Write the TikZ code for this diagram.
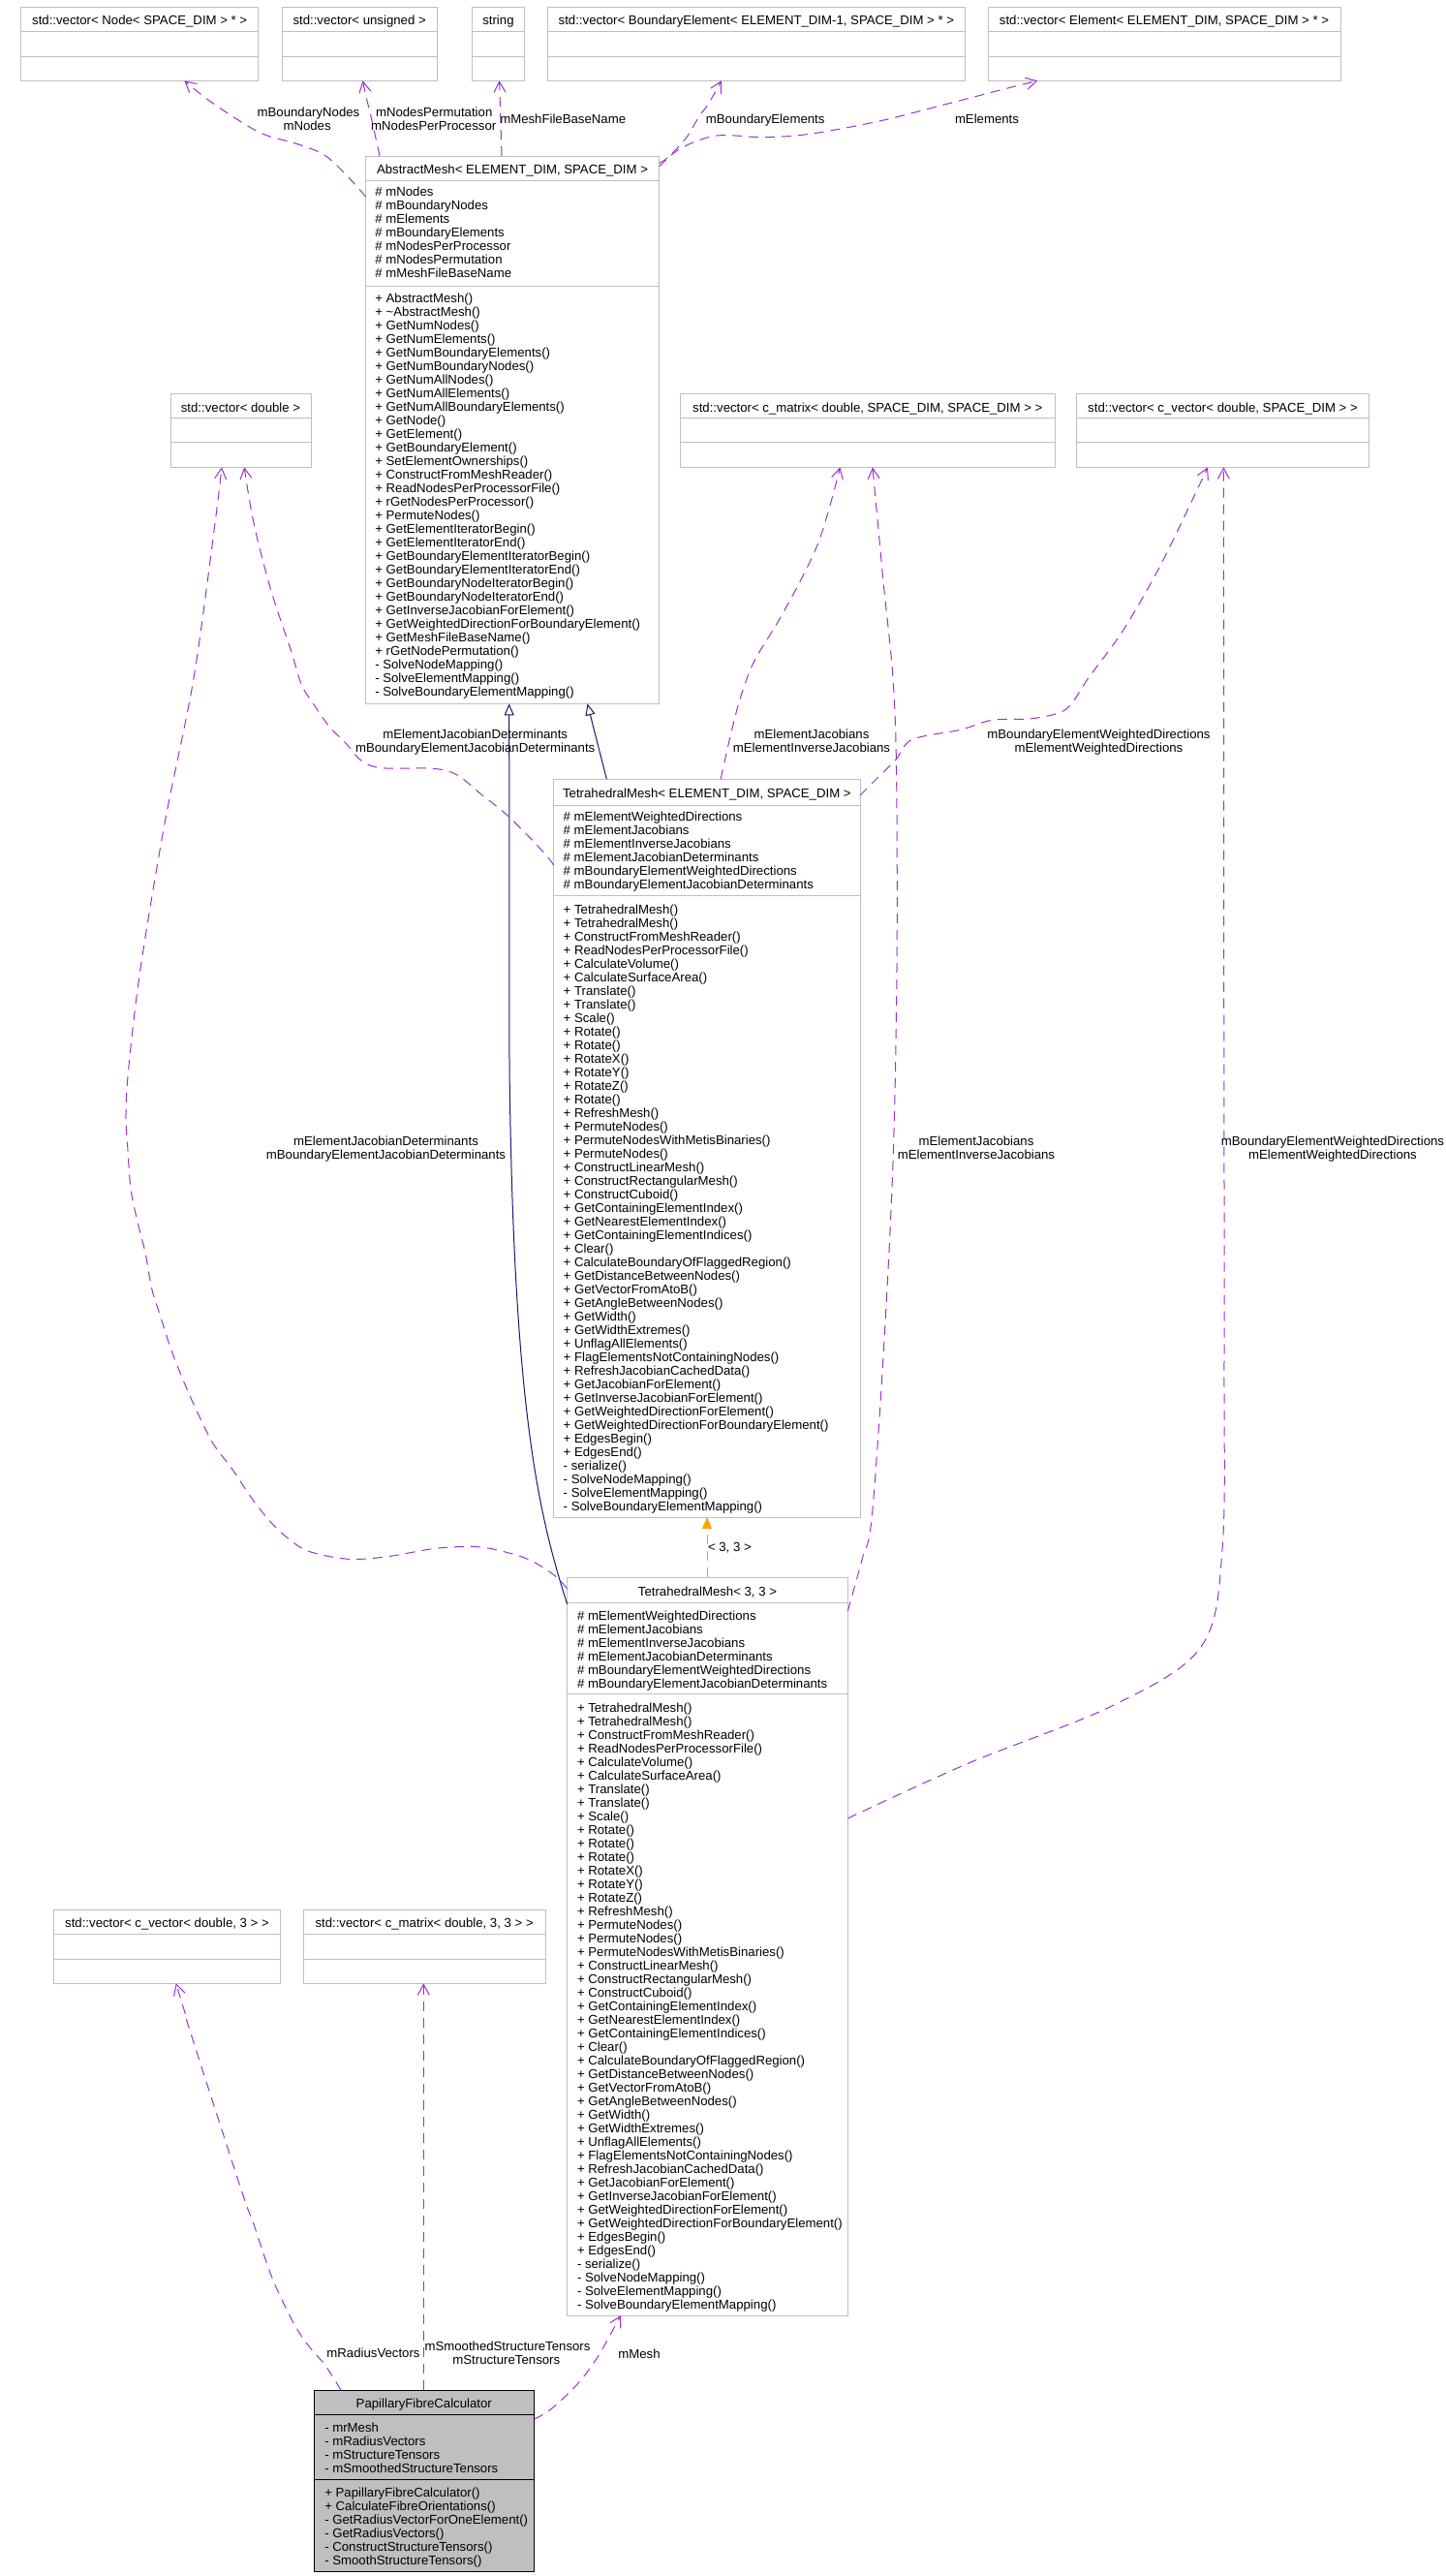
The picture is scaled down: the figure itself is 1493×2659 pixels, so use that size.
\documentclass[tikz,border=0pt]{standalone}
\usepackage{fontspec}
\newfontfamily\dxfont{Liberation Sans}
\usetikzlibrary{arrows.meta}
\definecolor{bgray}{HTML}{BFBFBF}
\definecolor{dpurple}{HTML}{9A32CD}
\definecolor{dnavy}{HTML}{191970}
\definecolor{dorange}{HTML}{FFA500}
\newcommand\dxsize{\dxfont\fontsize{13.2}{14}\selectfont}
\begin{document}
\begin{tikzpicture}[x=1pt,y=-1pt,
  every node/.style={inner sep=0pt, outer sep=0pt, font=\dxsize},
  cbox/.style={draw=bgray, line width=1pt, fill=white, anchor=north west},
  pbox/.style={draw=black, line width=1pt, fill=bgray, anchor=north west},
  sepl/.style={draw=bgray, line width=1pt},
  psepl/.style={draw=black, line width=1pt},
  lbl/.style={anchor=base},
  mem/.style={anchor=base west},
  assoc/.style={draw=dpurple, line width=1pt, dash pattern=on 10pt off 7pt, -{Straight Barb[length=11pt,width=12pt]}},
  inh/.style={draw=dnavy, line width=1pt, -{Triangle[length=12pt,width=10pt,fill=white]}},
  tmpl/.style={draw=dorange, line width=1pt, dash pattern=on 10pt off 7pt, -{Triangle[length=12pt,width=10pt,fill=dorange]}},
]
\fill[white] (0,0) rectangle (1493,2659);
\useasboundingbox (0,0) rectangle (1493,2659);

% ---------- top row ----------
\node[cbox, minimum width=245.4pt, minimum height=76pt] (vnode) at (21.5,7.3) {};
\node[cbox, minimum width=159.7pt, minimum height=76pt] (vuns) at (291.3,7.3) {};
\node[cbox, minimum width=53.1pt, minimum height=76pt] (vstr) at (487.9,7.3) {};
\node[cbox, minimum width=431pt, minimum height=76pt] (vbel) at (565.4,7.3) {};
\node[cbox, minimum width=364pt, minimum height=76pt] (vel) at (1020,7.3) {};
\foreach \b in {vnode,vuns,vstr,vbel,vel}{
  \draw[sepl] (\b.west |- 0,32.3) -- (\b.east |- 0,32.3);
  \draw[sepl] (\b.west |- 0,58.3) -- (\b.east |- 0,58.3);
}
\node[lbl] (hvnode) at (vnode.north |- 0,25) {std::vector< Node< SPACE\_DIM > * >};
\node[lbl] (hvuns) at (vuns.north |- 0,25) {std::vector< unsigned >};
\node[lbl] (hvstr) at (vstr.north |- 0,25) {string};
\node[lbl] (hvbel) at (vbel.north |- 0,25) {std::vector< BoundaryElement< ELEMENT\_DIM-1, SPACE\_DIM > * >};
\node[lbl] (hvel) at (vel.north |- 0,25) {std::vector< Element< ELEMENT\_DIM, SPACE\_DIM > * >};

% ---------- second row ----------
\node[cbox, minimum width=145pt, minimum height=76.3pt] (vdbl) at (176,406) {};
\node[cbox, minimum width=386.4pt, minimum height=76.3pt] (vcmat) at (702.6,406) {};
\node[cbox, minimum width=302pt, minimum height=76.3pt] (vcvec) at (1111.5,406) {};
\foreach \b in {vdbl,vcmat,vcvec}{
  \draw[sepl] (\b.west |- 0,431) -- (\b.east |- 0,431);
  \draw[sepl] (\b.west |- 0,456) -- (\b.east |- 0,456);
}
\node[lbl] (hvdbl) at (vdbl.north |- 0,425.2) {std::vector< double >};
\node[lbl] (hvcmat) at (vcmat.north |- 0,425.2) {std::vector< c\_matrix< double, SPACE\_DIM, SPACE\_DIM > >};
\node[lbl] (hvcvec) at (vcvec.north |- 0,425.2) {std::vector< c\_vector< double, SPACE\_DIM > >};

% ---------- third row ----------
\node[cbox, minimum width=233.6pt, minimum height=76pt] (v3vec) at (55.7,1971.3) {};
\node[cbox, minimum width=249.7pt, minimum height=76pt] (v3mat) at (313.3,1971.3) {};
\foreach \b in {v3vec,v3mat}{
  \draw[sepl] (\b.west |- 0,1996.3) -- (\b.east |- 0,1996.3);
  \draw[sepl] (\b.west |- 0,2022.3) -- (\b.east |- 0,2022.3);
}
\node[lbl] (hv3vec) at (v3vec.north |- 0,1989.5) {std::vector< c\_vector< double, 3 > >};
\node[lbl] (hv3mat) at (v3mat.north |- 0,1989.5) {std::vector< c\_matrix< double, 3, 3 > >};

% ---------- AbstractMesh ----------
\node[cbox, minimum width=302.9pt, minimum height=565.3pt] (am) at (377.6,161) {};
\draw[sepl] (am.west |- 0,186.6) -- (am.east |- 0,186.6);
\draw[sepl] (am.west |- 0,295.2) -- (am.east |- 0,295.2);
\node[lbl] (amh) at (am.north |- 0,179) {AbstractMesh< ELEMENT\_DIM, SPACE\_DIM >};
\foreach \t [count=\i from 0] in {\# mNodes,\# mBoundaryNodes,\# mElements,\# mBoundaryElements,\# mNodesPerProcessor,\# mNodesPermutation,\# mMeshFileBaseName}
  \node[mem] (ama\i) at (387.3,{202.7+14*\i}) {\t};
\foreach \t [count=\i from 0] in {+ AbstractMesh(),+ \textasciitilde AbstractMesh(),+ GetNumNodes(),+ GetNumElements(),+ GetNumBoundaryElements(),+ GetNumBoundaryNodes(),+ GetNumAllNodes(),+ GetNumAllElements(),+ GetNumAllBoundaryElements(),+ GetNode(),+ GetElement(),+ GetBoundaryElement(),+ SetElementOwnerships(),+ ConstructFromMeshReader(),+ ReadNodesPerProcessorFile(),+ rGetNodesPerProcessor(),+ PermuteNodes(),+ GetElementIteratorBegin(),+ GetElementIteratorEnd(),+ GetBoundaryElementIteratorBegin(),+ GetBoundaryElementIteratorEnd(),+ GetBoundaryNodeIteratorBegin(),+ GetBoundaryNodeIteratorEnd(),+ GetInverseJacobianForElement(),+ GetWeightedDirectionForBoundaryElement(),+ GetMeshFileBaseName(),+ rGetNodePermutation(),- SolveNodeMapping(),- SolveElementMapping(),- SolveBoundaryElementMapping()}
  \node[mem] (amm\i) at (387.3,{312.9+14*\i}) {\t};

% ---------- TetrahedralMesh< ELEMENT_DIM, SPACE_DIM > ----------
\node[cbox, minimum width=316.3pt, minimum height=762pt] (tes) at (571.7,804) {};
\draw[sepl] (tes.west |- 0,831) -- (tes.east |- 0,831);
\draw[sepl] (tes.west |- 0,924.3) -- (tes.east |- 0,924.3);
\node[lbl] (tesh) at (tes.north |- 0,823.5) {TetrahedralMesh< ELEMENT\_DIM, SPACE\_DIM >};
\foreach \t [count=\i from 0] in {\# mElementWeightedDirections,\# mElementJacobians,\# mElementInverseJacobians,\# mElementJacobianDeterminants,\# mBoundaryElementWeightedDirections,\# mBoundaryElementJacobianDeterminants}
  \node[mem] (tesa\i) at (581.7,{847.8+14*\i}) {\t};
\foreach \t [count=\i from 0] in {+ TetrahedralMesh(),+ TetrahedralMesh(),+ ConstructFromMeshReader(),+ ReadNodesPerProcessorFile(),+ CalculateVolume(),+ CalculateSurfaceArea(),+ Translate(),+ Translate(),+ Scale(),+ Rotate(),+ Rotate(),+ RotateX(),+ RotateY(),+ RotateZ(),+ Rotate(),+ RefreshMesh(),+ PermuteNodes(),+ PermuteNodesWithMetisBinaries(),+ PermuteNodes(),+ ConstructLinearMesh(),+ ConstructRectangularMesh(),+ ConstructCuboid(),+ GetContainingElementIndex(),+ GetNearestElementIndex(),+ GetContainingElementIndices(),+ Clear(),+ CalculateBoundaryOfFlaggedRegion(),+ GetDistanceBetweenNodes(),+ GetVectorFromAtoB(),+ GetAngleBetweenNodes(),+ GetWidth(),+ GetWidthExtremes(),+ UnflagAllElements(),+ FlagElementsNotContainingNodes(),+ RefreshJacobianCachedData(),+ GetJacobianForElement(),+ GetInverseJacobianForElement(),+ GetWeightedDirectionForElement(),+ GetWeightedDirectionForBoundaryElement(),+ EdgesBegin(),+ EdgesEnd(),- serialize(),- SolveNodeMapping(),- SolveElementMapping(),- SolveBoundaryElementMapping()}
  \node[mem] (tesm\i) at (581.7,{943.2+14*\i}) {\t};

% ---------- TetrahedralMesh< 3, 3 > ----------
\node[cbox, minimum width=289.6pt, minimum height=761.7pt] (t33) at (585.7,1628.3) {};
\draw[sepl] (t33.west |- 0,1654.3) -- (t33.east |- 0,1654.3);
\draw[sepl] (t33.west |- 0,1748.3) -- (t33.east |- 0,1748.3);
\node[lbl] (t33h) at (t33.north |- 0,1647.2) {TetrahedralMesh< 3, 3 >};
\foreach \t [count=\i from 0] in {\# mElementWeightedDirections,\# mElementJacobians,\# mElementInverseJacobians,\# mElementJacobianDeterminants,\# mBoundaryElementWeightedDirections,\# mBoundaryElementJacobianDeterminants}
  \node[mem] (t33a\i) at (596,{1672.2+14*\i}) {\t};
\foreach \t [count=\i from 0] in {+ TetrahedralMesh(),+ TetrahedralMesh(),+ ConstructFromMeshReader(),+ ReadNodesPerProcessorFile(),+ CalculateVolume(),+ CalculateSurfaceArea(),+ Translate(),+ Translate(),+ Scale(),+ Rotate(),+ Rotate(),+ Rotate(),+ RotateX(),+ RotateY(),+ RotateZ(),+ RefreshMesh(),+ PermuteNodes(),+ PermuteNodes(),+ PermuteNodesWithMetisBinaries(),+ ConstructLinearMesh(),+ ConstructRectangularMesh(),+ ConstructCuboid(),+ GetContainingElementIndex(),+ GetNearestElementIndex(),+ GetContainingElementIndices(),+ Clear(),+ CalculateBoundaryOfFlaggedRegion(),+ GetDistanceBetweenNodes(),+ GetVectorFromAtoB(),+ GetAngleBetweenNodes(),+ GetWidth(),+ GetWidthExtremes(),+ UnflagAllElements(),+ FlagElementsNotContainingNodes(),+ RefreshJacobianCachedData(),+ GetJacobianForElement(),+ GetInverseJacobianForElement(),+ GetWeightedDirectionForElement(),+ GetWeightedDirectionForBoundaryElement(),+ EdgesBegin(),+ EdgesEnd(),- serialize(),- SolveNodeMapping(),- SolveElementMapping(),- SolveBoundaryElementMapping()}
  \node[mem] (t33m\i) at (596,{1767.2+14*\i}) {\t};

% ---------- PapillaryFibreCalculator ----------
\node[pbox, minimum width=227.6pt, minimum height=187.3pt] (pfc) at (324,2467) {};
\draw[psepl] (pfc.west |- 0,2492.3) -- (pfc.east |- 0,2492.3);
\draw[psepl] (pfc.west |- 0,2559.3) -- (pfc.east |- 0,2559.3);
\node[lbl] (pfch) at (pfc.north |- 0,2485.2) {PapillaryFibreCalculator};
\foreach \t [count=\i from 0] in {- mrMesh,- mRadiusVectors,- mStructureTensors,- mSmoothedStructureTensors}
  \node[mem] (pfca\i) at (335.3,{2510.2+14*\i}) {\t};
\foreach \t [count=\i from 0] in {+ PapillaryFibreCalculator(),+ CalculateFibreOrientations(),- GetRadiusVectorForOneElement(),- GetRadiusVectors(),- ConstructStructureTensors(),- SmoothStructureTensors()}
  \node[mem] (pfcm\i) at (335.3,{2577.2+14*\i}) {\t};

% ---------- connectors ----------
% AbstractMesh -> top row
\draw[assoc] plot[smooth, tension=0.55] coordinates {(am.west |- 0,203) (358.8,182) (335,160) (306,148.3) (268,136.7) (220,106.7) (190.4,0 |- vnode.south)};
\draw[assoc] plot[smooth, tension=0.55] coordinates {(392,0 |- am.north) (383,120) (378,100) (374.5,0 |- vuns.south)};
\draw[assoc] (518,0 |- am.north) -- (515.6,0 |- vstr.south);
\draw[assoc] plot[smooth, tension=0.55] coordinates {(am.east |- 0,168.3) (689,163) (708,143) (722,120) (731.8,106.7) (744.8,0 |- vbel.south)};
\draw[assoc] plot[smooth, tension=0.55] coordinates {(am.east |- 0,172) (703,153) (740,140) (788,141.7) (836,138.3) (908,125) (980,106.7) (1037.7,91.7) (1071.4,0 |- vel.south)};

% inheritance
\draw[inh] (626.3,0 |- tes.north) -- (606.5,0 |- am.south);
\draw[inh] (t33.west |- 0,1656) .. controls (555,1560) and (530,1450) .. (526,1100) -- (525.7,0 |- am.south);

% template instance
\draw[tmpl] (730,0 |- t33.north) -- (730,0 |- tes.south);
\node[anchor=base west] (ltmpl) at (731,1601.2) {< 3, 3 >};

% TetrahedralMesh<E,S> -> second row
\draw[assoc] plot[smooth, tension=0.55] coordinates {(tes.west |- 0,893) (560,878.3) (525.7,843.3) (497,820) (472,800) (447,793.3) (394,792.7) (373,785) (356.7,766.7) (340,750) (323.7,726.7) (311.3,706.7) (300,670) (280,610) (262,540) (252.2,0 |- vdbl.south)};
\draw[assoc] plot[smooth, tension=0.55] coordinates {(744.2,0 |- tes.north) (752.5,766.7) (760.7,733.3) (769,706.7) (780,680) (810,630) (845,560) (867.4,0 |- vcmat.south)};
\draw[assoc] plot[smooth, tension=0.55] coordinates {(tes.east |- 0,821) (909,800) (925.6,783.3) (942,763.3) (991.6,753.3) (1024.6,743.3) (1065.8,741.7) (1098.8,733.3) (1115.3,713.3) (1123.6,700) (1160,650) (1200,580) (1247,0 |- vcvec.south)};

% TetrahedralMesh<3,3> -> second row
\draw[assoc] plot[smooth, tension=0.55] coordinates {(t33.west |- 0,1640) (573.3,1626.7) (550,1611.7) (526.7,1603.3) (493.3,1596.7) (450,1598.3) (400,1606.7) (360,1609.3) (320,1601.7) (300,1590) (280,1571.7) (260,1546.7) (240,1516.7) (220,1490) (203.3,1456.7) (190,1426.7) (176.7,1393) (165,1356.7) (156.7,1330) (150,1293) (141.7,1260) (135,1226.7) (131.7,1183) (130,1150) (133,1100) (145,1000) (170,850) (200,700) (222,540) (228.9,0 |- vdbl.south)};
\draw[assoc] plot[smooth, tension=0.55] coordinates {(t33.east |- 0,1663) (890,1610) (900,1568) (912,1400) (922,1200) (926,1000) (925.6,800) (922,700) (912,600) (901,0 |- vcmat.south)};
\draw[assoc] plot[smooth, tension=0.55] coordinates {(t33.east |- 0,1877) (1000,1820) (1150,1760) (1240,1700) (1262,1600) (1264,1400) (1263.7,1000) (1263.4,0 |- vcvec.south)};

% Papillary -> others
\draw[assoc] plot[smooth, tension=0.55] coordinates {(352,0 |- pfc.north) (336,2441.7) (324,2428) (312.4,2413) (300.5,2393) (284.7,2360) (276.8,2340) (268.9,2316.7) (261,2293) (249,2260) (196.7,2098) (191.7,2080) (181.7,0 |- v3vec.south)};
\draw[assoc] (437.3,0 |- pfc.north) -- (437.3,0 |- v3mat.south);
\draw[assoc] plot[smooth, tension=0.55] coordinates {(pfc.east |- 0,2497) (569,2486.7) (597,2460) (617,2433) (630,2410) (641,0 |- t33.south)};

% ---------- edge labels ----------
\node[lbl] (l1a) at (318.5,120.5) {mBoundaryNodes};
\node[lbl] (l1b) at (317.1,134.5) {mNodes};
\node[lbl] (l2a) at (448.2,120.5) {mNodesPermutation};
\node[lbl] (l2b) at (447.7,134.5) {mNodesPerProcessor};
\node[lbl] (l3) at (581.2,127.2) {mMeshFileBaseName};
\node[lbl] (l4) at (790.2,127.2) {mBoundaryElements};
\node[lbl] (l5) at (1019,127.2) {mElements};

\node[lbl] (l6a) at (490.7,762.2) {mElementJacobianDeterminants};
\node[lbl] (l6b) at (490.7,776.2) {mBoundaryElementJacobianDeterminants};
\node[lbl] (l7a) at (838,762.2) {mElementJacobians};
\node[lbl] (l7b) at (838,776.2) {mElementInverseJacobians};
\node[lbl] (l8a) at (1134.5,762.2) {mBoundaryElementWeightedDirections};
\node[lbl] (l8b) at (1134.5,776.2) {mElementWeightedDirections};

\node[lbl] (l9a) at (398.5,1182.2) {mElementJacobianDeterminants};
\node[lbl] (l9b) at (398.5,1196.2) {mBoundaryElementJacobianDeterminants};
\node[lbl] (l10a) at (1008,1182.2) {mElementJacobians};
\node[lbl] (l10b) at (1008,1196.2) {mElementInverseJacobians};
\node[lbl] (l11a) at (1376,1182.2) {mBoundaryElementWeightedDirections};
\node[lbl] (l11b) at (1376,1196.2) {mElementWeightedDirections};

\node[lbl] (l12) at (385.5,2433.2) {mRadiusVectors};
\node[lbl] (l13a) at (524,2426.2) {mSmoothedStructureTensors};
\node[lbl] (l13b) at (522.8,2440.2) {mStructureTensors};
\node[lbl] (l14) at (660,2434.5) {mMesh};
\end{tikzpicture}
\end{document}
